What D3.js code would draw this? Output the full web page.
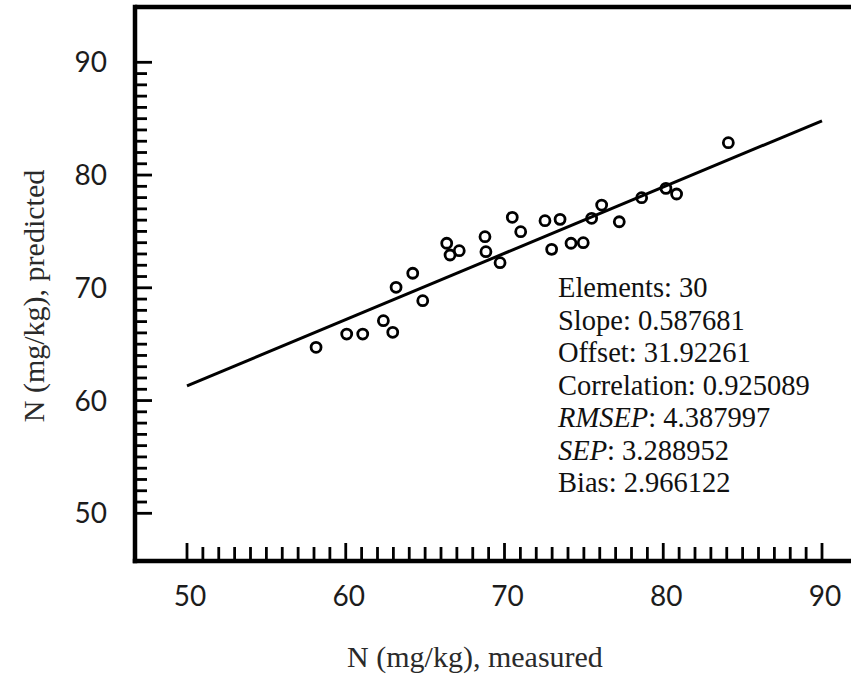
<!DOCTYPE html>
<html>
<head>
<meta charset="utf-8">
<script src="https://cdn.jsdelivr.net/npm/d3@7"></script>
<style>
  html, body { margin: 0; padding: 0; background: #fff; }
  svg { display: block; }
</style>
</head>
<body>
<svg id="chart" width="851" height="675"></svg>
<script>
// ---- data ----
const measured = [58.13, 60.06, 61.07, 62.37, 62.96, 63.17, 64.22, 64.85, 66.36, 66.57,
  67.15, 68.77, 68.83, 69.72, 70.49, 71.02, 72.55, 72.97, 73.50, 74.19,
  74.96, 75.49, 76.12, 77.23, 78.64, 80.17, 80.84, 84.10];
const predicted = [64.72, 65.90, 65.90, 67.08, 66.05, 70.04, 71.29, 68.86, 73.95, 72.91,
  73.29, 74.53, 73.20, 72.23, 76.25, 74.98, 75.95, 73.41, 76.07, 73.95,
  74.00, 76.16, 77.34, 75.86, 77.99, 78.82, 78.32, 82.87];
const slope = 0.587681;
const offset = 31.92261;
const lineRange = [50, 90];
const xTickLabels = [50, 60, 70, 80, 90];
const yTickLabels = [50, 60, 70, 80, 90];
const statNames = ["Elements", "Slope", "Offset", "Correlation", "RMSEP", "SEP", "Bias"];
const statItalic = [false, false, false, false, true, true, false];
const statValues = ["30", "0.587681", "31.92261", "0.925089", "4.387997", "3.288952", "2.966122"];
const xTitle = "N (mg/kg), measured";
const yTitle = "N (mg/kg), predicted";

// ---- layout ----
const svg = d3.select("#chart");
const frameLeft = 135, frameTop = 7, frameBottom = 561, frameRight = 860;
const x = d3.scaleLinear().domain([50, 90]).range([187, 822]);
const y = d3.scaleLinear().domain([50, 90]).range([513.3, 62.3]);

const minorTicks = d3.range(50, 91, 1);

// frame (top, left, bottom)
const frameColor = "#000";
svg.append("line").attr("x1", frameLeft).attr("x2", frameRight)
  .attr("y1", frameTop).attr("y2", frameTop)
  .attr("stroke", frameColor).attr("stroke-width", 4.5);
svg.append("line").attr("x1", frameLeft).attr("x2", frameLeft)
  .attr("y1", frameTop - 2.25).attr("y2", frameBottom + 2.25)
  .attr("stroke", frameColor).attr("stroke-width", 4.5);
svg.append("line").attr("x1", frameLeft - 2.25).attr("x2", frameRight)
  .attr("y1", frameBottom).attr("y2", frameBottom)
  .attr("stroke", frameColor).attr("stroke-width", 4.5);

// y ticks (inward, to the right)
svg.append("g").selectAll("line").data(minorTicks).join("line")
  .attr("x1", frameLeft)
  .attr("x2", d => frameLeft + (d % 10 === 0 ? 17 : 12))
  .attr("y1", d => y(d)).attr("y2", d => y(d))
  .attr("stroke", "#000").attr("stroke-width", 2.8);

// x ticks (inward, upward)
svg.append("g").selectAll("line").data(minorTicks).join("line")
  .attr("x1", d => x(d)).attr("x2", d => x(d))
  .attr("y1", frameBottom)
  .attr("y2", d => frameBottom - (d % 10 === 0 ? 18 : 14))
  .attr("stroke", "#000").attr("stroke-width", 2.8);

// tick labels
const tickFont = "Lato, 'Open Sans', sans-serif";
svg.append("g").selectAll("text").data(yTickLabels).join("text")
  .attr("x", 107).attr("y", d => y(d)).attr("dy", "0.36em")
  .attr("text-anchor", "end")
  .attr("font-family", tickFont).attr("font-size", 28)
  .attr("fill", "#1c1c1c")
  .text(d => d);
svg.append("g").selectAll("text").data(xTickLabels).join("text")
  .attr("x", d => x(d) + 3).attr("y", 606)
  .attr("text-anchor", "middle")
  .attr("font-family", tickFont).attr("font-size", 28)
  .attr("fill", "#1c1c1c")
  .text(d => d);

// axis titles
const serif = "'Liberation Serif', 'DejaVu Serif', serif";
svg.append("text")
  .attr("x", 475).attr("y", 667)
  .attr("text-anchor", "middle")
  .attr("font-family", serif).attr("font-size", 30)
  .attr("fill", "#2a2a2a")
  .text(xTitle);
svg.append("text")
  .attr("transform", "translate(44,296) rotate(-90)")
  .attr("text-anchor", "middle")
  .attr("font-family", serif).attr("font-size", 30)
  .attr("fill", "#2a2a2a")
  .text(yTitle);

// regression line
svg.append("line")
  .attr("x1", x(lineRange[0])).attr("y1", y(slope * lineRange[0] + offset))
  .attr("x2", x(lineRange[1])).attr("y2", y(slope * lineRange[1] + offset))
  .attr("stroke", "#000").attr("stroke-width", 3);

// points
svg.append("g").selectAll("circle").data(measured.map((m, i) => [m, predicted[i]])).join("circle")
  .attr("cx", d => x(d[0])).attr("cy", d => y(d[1]))
  .attr("r", 5)
  .attr("fill", "none").attr("stroke", "#000").attr("stroke-width", 2.8);

// statistics text
const stats = svg.append("g")
  .attr("font-family", serif).attr("font-size", 28.5).attr("fill", "#111");
statNames.forEach((name, i) => {
  const t = stats.append("text").attr("x", 558).attr("y", 297 + i * 32.5);
  t.append("tspan").attr("font-style", statItalic[i] ? "italic" : "normal").text(name);
  t.append("tspan").text(": " + statValues[i]);
});
</script>
</body>
</html>
